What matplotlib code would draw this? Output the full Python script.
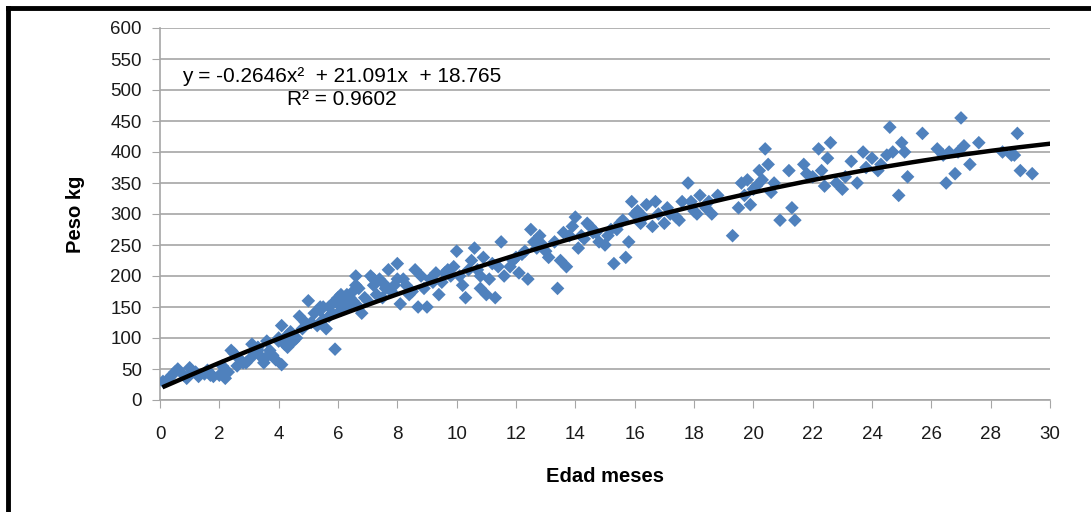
import numpy as np
import matplotlib.pyplot as plt
from matplotlib.lines import Line2D

# Edad (meses) y peso (kg)
edad = [0.1, 0.3, 0.5, 0.6, 0.8, 1.0, 1.1, 1.3, 1.5, 1.6, 1.8, 2.0, 2.1, 2.2, 2.3,
        2.4, 2.5, 2.6, 2.8, 3.0, 3.1, 3.2, 3.3, 3.4, 3.5, 3.6, 3.7, 3.8, 3.9, 4.0,
        4.1, 4.1, 4.2, 4.3, 4.4, 4.5, 4.6, 4.7, 4.8, 5.0, 5.1, 5.2, 5.3, 5.4, 5.5,
        5.6, 5.7, 5.8, 5.9, 6.0, 6.1, 6.2, 6.3, 6.4, 6.5, 6.6, 6.7, 6.8, 7.0, 7.1,
        7.2, 7.3, 7.5, 7.6, 7.7, 7.8, 8.0, 8.1, 8.2, 8.3, 8.5, 8.6, 8.7, 8.8, 9.0,
        9.1, 9.3, 9.4, 9.5, 9.7, 9.8, 10.0, 10.1, 10.2, 10.3, 10.5, 10.6, 10.7, 10.8, 10.9,
        11.0, 11.2, 11.3, 11.5, 11.6, 11.8, 12.0, 12.1, 12.3, 12.4, 12.5, 12.6, 12.8, 13.0, 13.1,
        13.4, 13.5, 13.6, 13.7, 13.9, 14.0, 14.1, 14.3, 14.5, 14.7, 14.8, 15.0, 15.2, 15.3, 15.5,
        15.7, 15.8, 15.9, 16.0, 16.2, 16.4, 16.6, 16.7, 17.0, 17.2, 17.5, 17.6, 17.8, 18.0, 18.2,
        18.4, 18.6, 18.8, 19.3, 19.5, 19.6, 19.8, 20.0, 20.2, 20.4, 20.5, 20.7, 20.9, 21.2, 21.3,
        21.4, 21.7, 22.0, 22.2, 22.5, 22.6, 22.8, 23.0, 23.3, 23.5, 23.7, 24.0, 24.3, 24.6, 24.7,
        24.9, 25.0, 25.2, 25.7, 26.2, 26.5, 26.6, 26.8, 27.0, 27.3, 27.6, 28.7, 28.9, 29.0, 29.4,
        26.9, 28.4,
        0.4, 0.9, 1.2, 1.7, 2.7, 2.9, 3.3, 3.6, 4.0, 4.3, 4.9, 5.4, 5.7, 6.1, 6.3,
        6.6, 6.9, 7.4, 7.9, 8.4, 8.9, 9.2, 9.6, 9.9, 10.4, 10.8, 11.1, 11.4, 11.9, 12.2,
        12.7, 12.9, 13.3, 13.8, 14.2, 14.4, 14.6, 15.1, 15.4, 15.6, 16.1, 16.3, 16.8, 17.1, 17.4,
        17.9, 18.1, 18.5, 19.7, 19.9, 20.1, 20.3, 20.6, 21.8, 22.3, 22.4, 23.1, 23.8, 24.2, 24.5,
        25.1, 26.4, 27.1, 28.8,
        5.5, 5.8, 6.0, 6.2, 6.4, 6.5, 6.7, 7.2, 7.6, 8.0]
peso = [30, 35, 45, 50, 40, 52, 45, 38, 42, 48, 38, 40, 55, 35, 45,
        80, 75, 55, 60, 65, 90, 75, 85, 70, 60, 95, 80, 72, 65, 100,
        120, 57, 90, 85, 110, 95, 100, 135, 115, 160, 125, 140, 120, 145, 130,
        115, 150, 155, 82, 165, 145, 160, 170, 155, 175, 200, 150, 140, 160, 200,
        185, 170, 165, 180, 210, 175, 220, 155, 195, 185, 175, 210, 150, 200, 150,
        195, 205, 170, 190, 210, 200, 240, 200, 185, 165, 225, 245, 210, 180, 230,
        170, 220, 165, 255, 200, 215, 230, 205, 240, 195, 275, 255, 265, 240, 230,
        180, 225, 270, 215, 280, 295, 245, 260, 280, 270, 255, 250, 275, 220, 285,
        230, 255, 320, 300, 285, 315, 280, 320, 285, 300, 290, 320, 350, 305, 330,
        310, 300, 330, 265, 310, 350, 355, 340, 370, 405, 380, 350, 290, 370, 310,
        290, 380, 360, 405, 390, 415, 350, 340, 385, 350, 400, 390, 380, 440, 400,
        330, 415, 360, 430, 405, 350, 400, 365, 455, 380, 415, 395, 430, 370, 365,
        400, 400,
        40, 35, 45, 40, 65, 60, 80, 70, 95, 105, 125, 150, 135, 170, 150,
        185, 165, 195, 185, 170, 180, 190, 205, 215, 210, 200, 195, 215, 225, 235,
        245, 250, 255, 265, 265, 285, 270, 265, 275, 290, 305, 295, 300, 310, 295,
        320, 300, 320, 330, 315, 345, 355, 335, 365, 370, 345, 360, 375, 370, 395,
        400, 395, 410, 395,
        150, 140, 155, 150, 165, 160, 180, 195, 185, 195]

# Linea de tendencia polinomica (coeficientes tal como aparecen en el grafico)
coef = [-0.2646, 21.091, 18.765]

fig = plt.figure(figsize=(10.91, 5.12), dpi=100)
ax = fig.add_axes([160 / 1091, 112 / 512, 890 / 1091, 372 / 512])

ax.scatter(edad, peso, marker="D", s=48, color="#4F81BD", edgecolors="none", zorder=3)

xs = np.linspace(0.15, 30, 200)
ax.plot(xs, np.polyval(coef, xs), color="black", linewidth=3.2, zorder=4)

ax.set_xlim(0, 30)
ax.set_ylim(0, 600)
ax.set_xticks(np.arange(0, 31, 2))
ax.set_yticks(np.arange(0, 601, 50))
ax.yaxis.grid(True, color="#A6A6A6", linewidth=1.2)
ax.set_axisbelow(True)
for s in ["top", "right"]:
    ax.spines[s].set_visible(False)
ax.spines["left"].set_color("#A6A6A6")
ax.spines["bottom"].set_color("#A6A6A6")
ax.spines["left"].set_linewidth(1.2)
ax.spines["bottom"].set_linewidth(1.2)
ax.tick_params(axis="y", length=6, color="#A6A6A6", labelsize=13.5, labelcolor="#1a1a1a", pad=7)
ax.tick_params(axis="x", length=6, color="#A6A6A6", labelsize=13.5, labelcolor="#1a1a1a",
               direction="out", pad=13)
for lab in ax.get_xticklabels() + ax.get_yticklabels():
    lab.set_family("Liberation Sans")

ax.set_xlabel("Edad meses", fontsize=14.5, fontweight="bold", family="Liberation Sans", labelpad=17)
ax.set_ylabel("Peso kg", fontsize=14.5, fontweight="bold", family="Liberation Sans", labelpad=18)

ax.text(6.13, 522, "y = -0.2646x²  + 21.091x  + 18.765", fontsize=15,
        family="Liberation Sans", va="center", ha="center", color="black")
ax.text(6.13, 484, "R² = 0.9602", fontsize=15, family="Liberation Sans",
        va="center", ha="center", color="black")

# Marco negro del grafico (solo visibles los lados superior e izquierdo)
fig.add_artist(Line2D([8 / 1091, 1], [1 - 8 / 512, 1 - 8 / 512], color="black", linewidth=3.5,
                      transform=fig.transFigure))
fig.add_artist(Line2D([8 / 1091, 8 / 1091], [0, 1 - 8 / 512], color="black", linewidth=3.5,
                      transform=fig.transFigure))

fig.savefig("out.png", dpi=100)
